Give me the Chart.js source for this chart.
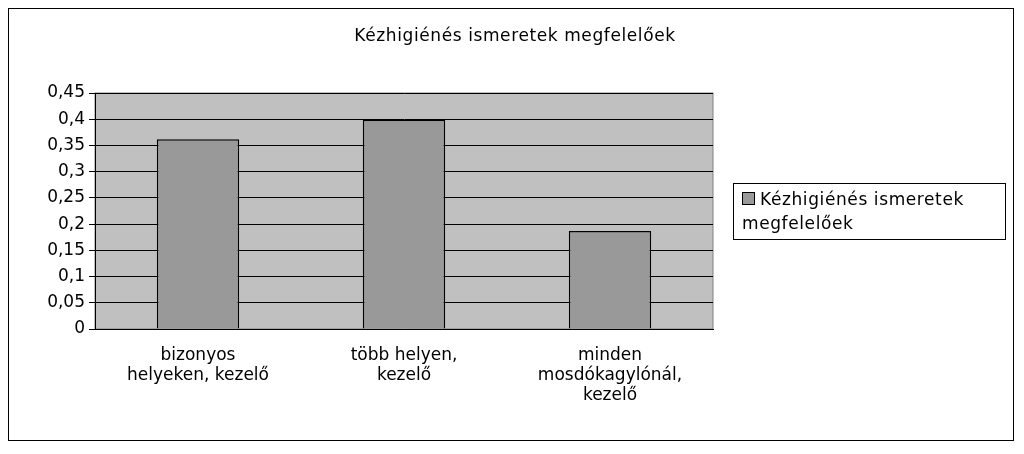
<!DOCTYPE html>
<html><head><meta charset="utf-8">
<script src="https://cdn.jsdelivr.net/npm/chart.js@4"></script>
<style>
html,body{margin:0;padding:0;background:#fff;}
#wrap{position:relative;width:1024px;height:454px;}
#frame{position:absolute;left:8px;top:8px;width:1006px;height:433px;border:1px solid #000;box-sizing:border-box;}
#title{position:absolute;left:0;width:1030px;top:25px;text-align:center;font:17px "DejaVu Sans",sans-serif;letter-spacing:0.6px;}
#legend{position:absolute;left:733px;top:183px;width:273px;height:57px;border:1px solid #000;box-sizing:border-box;
font:17px "DejaVu Sans",sans-serif;padding:3px 0 0 8px;line-height:24px;letter-spacing:0.6px;}
#legend span{display:inline-block;width:11px;height:11px;background:#999;border:1px solid #000;margin-right:5px;}
canvas{position:absolute;left:0;top:0;}
</style></head><body>
<div id="wrap">
<canvas id="c" width="1024" height="454"></canvas>
<div id="frame"></div>
<div id="title">Kézhigiénés ismeretek megfelelőek</div>
<div id="legend"><span></span>Kézhigiénés ismeretek<br>megfelelőek</div>
</div>
<script>
const categories = [["bizonyos", "helyeken, kezelő"], ["több helyen,", "kezelő"], ["minden", "mosdókagylónál,", "kezelő"]];
const values = [0.362, 0.399, 0.187];
const seriesName = "Kézhigiénés ismeretek megfelelőek";

const plotBg = {
  id: "plotBg",
  beforeDraw(chart) {
    const a = chart.chartArea, ctx = chart.ctx;
    ctx.save();
    ctx.fillStyle = "#c0c0c0";
    ctx.fillRect(a.left, a.top, a.right - a.left, a.bottom - a.top);
    ctx.strokeStyle = "#808080";
    ctx.strokeRect(a.left, a.top, a.right - a.left, a.bottom - a.top);
    ctx.restore();
  },
};

const tickFont = { family: "DejaVu Sans", size: 17 };

new Chart(document.getElementById("c").getContext("2d"), {
  type: "bar",
  data: {
    labels: categories,
    datasets: [{
      label: seriesName,
      data: values,
      backgroundColor: "#999999",
      borderColor: "#000",
      borderWidth: 1.5,
      categoryPercentage: 0.4,
      barPercentage: 1,
    }],
  },
  options: {
    responsive: false,
    animation: false,
    layout: { padding: { left: 0, right: 311, top: 93, bottom: 0 } },
    scales: {
      x: {
        grid: { display: false },
        border: { color: "#000" },
        ticks: { color: "#000", font: tickFont, maxRotation: 0, padding: 8 },
        afterFit: (s) => { s.height = 125; },
      },
      y: {
        min: 0, max: 0.45,
        ticks: { stepSize: 0.05, color: "#000", font: tickFont, padding: 4,
          callback: (v) => String(Math.round(v * 100) / 100).replace(".", ",") },
        grid: { color: "#000", tickColor: "#000", tickLength: 6 },
        border: { color: "#000" },
        afterFit: (s) => { s.width = 95; },
      },
    },
    plugins: {
      legend: { display: false },
      tooltip: { enabled: false },
    },
  },
  plugins: [plotBg],
});
</script>
</body></html>
